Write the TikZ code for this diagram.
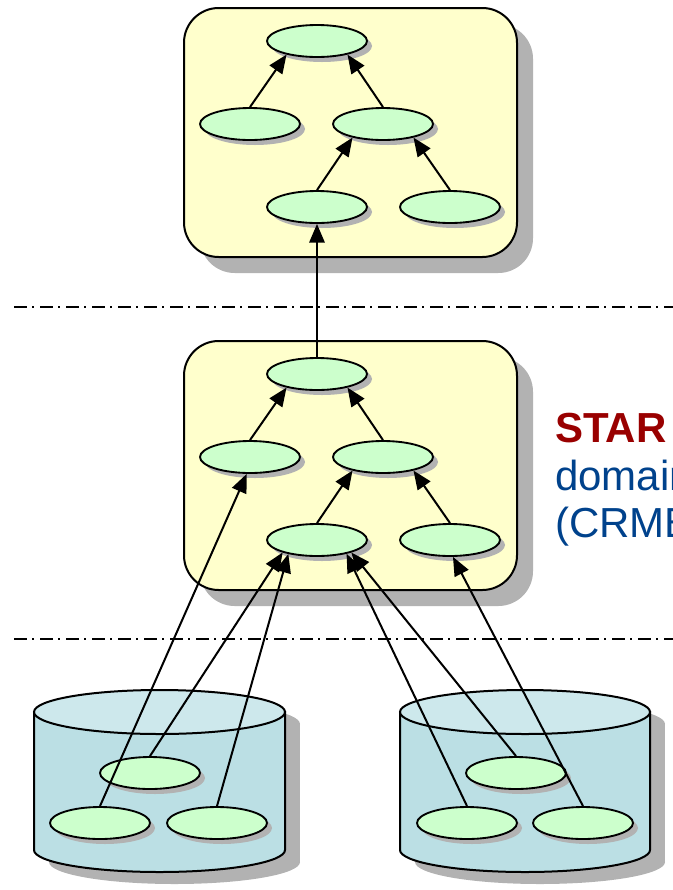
\documentclass[tikz,border=0pt]{standalone}
\usepackage{fontspec}
\setmainfont{Liberation Sans}
\usetikzlibrary{arrows.meta,shapes.geometric,shadows}
\definecolor{panelfill}{RGB}{255,255,204}
\definecolor{leaffill}{RGB}{204,255,204}
\definecolor{cylside}{RGB}{187,223,228}
\definecolor{cyltop}{RGB}{205,232,236}
\definecolor{shadowgray}{RGB}{178,178,178}
\definecolor{stared}{RGB}{153,0,0}
\definecolor{domblue}{RGB}{0,66,140}
\begin{document}
\begin{tikzpicture}[x=0.75pt,y=0.75pt,yscale=-1,xscale=1,
  leaf/.style={ellipse,draw,line width=1.4pt,fill=leaffill,minimum width=75pt,minimum height=24pt,inner sep=0pt,
    drop shadow={shadow xshift=3.75pt,shadow yshift=-3.75pt,fill=shadowgray,opacity=1}},
  link/.style={line width=1.5pt,-{Triangle[length=14pt,width=11.5pt]}},
  panel/.style={draw,line width=1.5pt,fill=panelfill,rounded corners=26pt},
  sepline/.style={line width=1.1pt,dash pattern={on 9.75pt off 3.75pt on 1.5pt off 4.5pt}},
  note/.style={anchor=base west,inner sep=0pt,font=\fontsize{31.5}{36}\selectfont}]
\useasboundingbox (0,0) rectangle (673,890);

%Shape: shadows of panels and cylinders
\fill[shadowgray,rounded corners=26pt] (200,24) rectangle (533,273);
\fill[shadowgray,rounded corners=26pt] (200,357) rectangle (533,606);
\fill[shadowgray] (49,724) rectangle (300,862);
\fill[shadowgray] (174.5,862) ellipse [x radius=125.5,y radius=22];
\fill[shadowgray] (174.5,724) ellipse [x radius=125.5,y radius=22];
\fill[shadowgray] (415,724) rectangle (665,862);
\fill[shadowgray] (540,862) ellipse [x radius=125,y radius=22];
\fill[shadowgray] (540,724) ellipse [x radius=125,y radius=22];

%Shape: Rounded Rect
\draw[panel] (184,8) rectangle (517,257);
%Shape: Rounded Rect
\draw[panel] (184,341) rectangle (517,590);

%Shape: Can
\draw[line width=1.5pt,fill=cylside] (34,712) -- (34,850) arc[start angle=180,end angle=0,x radius=125.5,y radius=22] -- (285,712) -- cycle;
\draw[line width=1.5pt,fill=cyltop] (159.5,712) ellipse [x radius=125.5,y radius=22];
%Shape: Can
\draw[line width=1.5pt,fill=cylside] (400,712) -- (400,850) arc[start angle=180,end angle=0,x radius=125,y radius=22] -- (650,712) -- cycle;
\draw[line width=1.5pt,fill=cyltop] (525,712) ellipse [x radius=125,y radius=22];

%Straight Lines
\draw[sepline] (14,307) -- (673,307);
\draw[sepline] (14,639) -- (673,639);

% upper tree
\node[leaf] (e1) at (317,41) {};
\node[leaf] (e2) at (250,124) {};
\node[leaf] (e3) at (383,124) {};
\node[leaf] (e4) at (317,207) {};
\node[leaf] (e5) at (450,207) {};
% middle tree
\node[leaf] (m1) at (317,374) {};
\node[leaf] (m2) at (250,457) {};
\node[leaf] (m3) at (383,457) {};
\node[leaf] (m4) at (317,540) {};
\node[leaf] (m5) at (450,540) {};
% sources
\node[leaf] (l1) at (150,773) {};
\node[leaf] (l2) at (100,823) {};
\node[leaf] (l3) at (217,823) {};
\node[leaf] (r1) at (516,773) {};
\node[leaf] (r2) at (467,823) {};
\node[leaf] (r3) at (583,823) {};

%Arrows
\draw[link] (e2.north) -- (e1.204);
\draw[link] (e3.north) -- (e1.336);
\draw[link] (e4.north) -- (e3.204);
\draw[link] (e5.north) -- (e3.336);
\draw[link] (m2.north) -- (m1.204);
\draw[link] (m3.north) -- (m1.336);
\draw[link] (m4.north) -- (m3.204);
\draw[link] (m5.north) -- (m3.336);
\draw[link] (m1.north) -- (e4.south);
\draw[link] (l2.north) -- (m2.259);
\draw[link] (l1.north) -- (m4.200);
\draw[link] (l3.north) -- (m4.206);
\draw[link] (r1.north) -- (m4.340);
\draw[link] (r2.north) -- (m4.335);
\draw[link] (r3.north) -- (m5.280);

% Text Node
\node[note,font=\fontsize{31.5}{36}\selectfont\bfseries,text=stared] (star) at (555,442) {STAR};
% Text Node
\node[note,text=domblue] (dom) at (555,490) {domain};
% Text Node
\node[note,text=domblue] (crmb) at (555,537) {(CRMB};
\end{tikzpicture}
\end{document}
